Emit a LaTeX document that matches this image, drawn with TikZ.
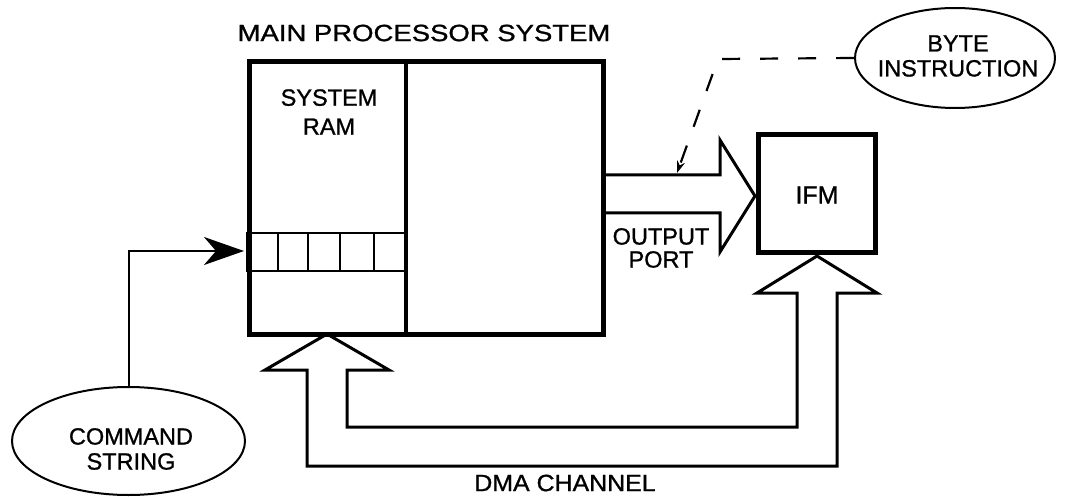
\documentclass[tikz,border=0pt]{standalone}
\usepackage{fontspec}
\setmainfont[FakeBold=1]{Liberation Sans}
\usetikzlibrary{arrows.meta,shapes.geometric}
\begin{document}
\begin{tikzpicture}[x=1pt,y=-1pt,
  lbl/.style={font=\fontsize{23.5}{25}\selectfont, inner sep=0pt, align=center},
  heavy/.style={line width=5pt, line join=miter},
  blockarrow/.style={line width=3pt, line join=miter},
  oval/.style={draw, ellipse, line width=2pt, inner sep=0pt},
  thin/.style={line width=2.5pt}
]
\useasboundingbox (0,0) rectangle (1071,497);

% main processor box
\node[draw, heavy, minimum width=354pt, minimum height=273pt, inner sep=0pt, anchor=north west] (mps) at (247,59) {};
\node[lbl] (title) at (424,33) {\scalebox{1.17}[1]{MAIN PROCESSOR SYSTEM}};
\coordinate (divtop) at (406,59);
\coordinate (divbot) at (406,332);
\draw[line width=3.5pt] (divtop) -- (divbot);
\node[lbl, font=\fontsize{23.5}{29}\selectfont] (ram) at (329,112) {SYSTEM\\RAM};

% register strip
\coordinate (stripTL) at (247,233);
\coordinate (stripBR) at (406,271);
\draw[thin] (stripTL) rectangle (stripBR);
\foreach \cx in {278,308,340,374}{
  \draw[line width=2pt] (\cx,233) -- (\cx,271);
}

% IFM box
\node[draw, heavy, minimum width=117pt, minimum height=118pt, inner sep=0pt] (ifm) at (816.5,194) {};
\node[lbl, font=\fontsize{25}{27}\selectfont] (ifmtxt) at (817,195) {IFM};

% output port block arrow
\coordinate (opA) at (601,175);
\coordinate (opB) at (601,213);
\coordinate (opTip) at (755,196);
\draw[blockarrow] (opA) -- (720,175) -- (720,140) -- (opTip) -- (720,252) -- (720,213) -- (opB);
\node[lbl, font=\fontsize{23.5}{23}\selectfont] (port) at (661,248) {OUTPUT\\PORT};

% DMA channel block arrow
\coordinate (dmaTipL) at (327,334);
\coordinate (dmaTipR) at (817,256);
\draw[blockarrow] (347,370) -- (389,370) -- (dmaTipL) -- (265,370) -- (307,370)
  -- (307,466) -- (837,466) -- (837,293) -- (877,293) -- (dmaTipR) -- (757,293)
  -- (797,293) -- (797,427) -- (347,427) -- cycle;
\node[lbl] (dma) at (565,483) {\scalebox{1.06}[1]{DMA CHANNEL}};

% command string
\node[oval, minimum width=233pt, minimum height=108pt] (cs) at (128.5,441) {};
\node[lbl] (cstxt) at (131,449) {COMMAND\\STRING};
\coordinate (entry) at (244,251);
\draw[line width=2pt, -{Stealth[length=40pt,width=28pt,inset=12pt]}] (cs.north) |- (entry);

% byte instruction
\node[oval, minimum width=200pt, minimum height=100pt] (bi) at (955,58) {};
\node[lbl] (bitxt) at (958,56) {BYTE\\INSTRUCTION};
\coordinate (bend) at (718,59);
\coordinate (bitip) at (677,173);
\draw[line width=2.2pt, dash pattern=on 18pt off 20pt, -{Stealth[length=12pt,width=8pt]}] (bi.west) -- (bend) -- (bitip);
\end{tikzpicture}
\end{document}
